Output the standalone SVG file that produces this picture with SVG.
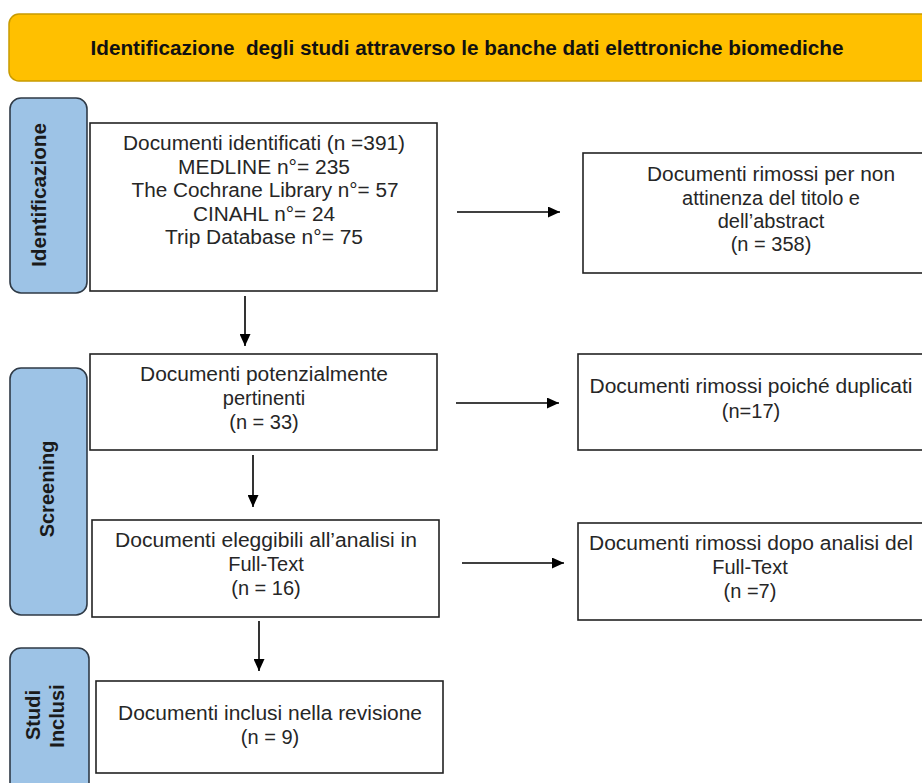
<svg xmlns="http://www.w3.org/2000/svg" width="922" height="783" viewBox="0 0 922 783">
<style>
.box{fill:#fff;stroke:#222;stroke-width:1.6}
.tab{fill:#9DC3E6;stroke:#2F3A46;stroke-width:1.6}
.t{font-family:"Liberation Sans",Arial,sans-serif;font-size:20px;fill:#262626;text-anchor:middle}
.tb{font-family:"Liberation Sans",Arial,sans-serif;font-size:20px;font-weight:bold;fill:#1a1a1a;text-anchor:middle}
.conn{stroke:#000;stroke-width:1.6;fill:none;marker-end:url(#ah)}
</style>
<defs>
<marker id="ah" viewBox="0 0 12 11" refX="12" refY="5.5" markerWidth="12" markerHeight="11" markerUnits="userSpaceOnUse" orient="auto">
<path d="M0,0 L12,5.5 L0,11 z" fill="#000"/>
</marker>
</defs>
<rect width="922" height="783" fill="#fff"/>

<g id="title">
<rect x="9" y="14" width="930" height="67" rx="10" fill="#FFC000" stroke="#C89B00" stroke-width="1.5"/>
<text x="467" y="55" font-family="'Liberation Sans Narrow','Liberation Sans',Arial,sans-serif" font-size="21" font-weight="bold" fill="#111" text-anchor="middle" textLength="753" lengthAdjust="spacingAndGlyphs" xml:space="preserve">Identificazione  degli studi attraverso le banche dati elettroniche biomediche</text>
</g>

<g id="tab-identificazione">
<rect class="tab" x="10" y="98" width="77" height="195" rx="11"/>
<text class="tb" transform="translate(46,195) rotate(-90)" textLength="144" lengthAdjust="spacingAndGlyphs">Identificazione</text>
</g>
<g id="tab-screening">
<rect class="tab" x="10" y="368" width="77" height="247" rx="11"/>
<text class="tb" transform="translate(54,489) rotate(-90)">Screening</text>
</g>
<g id="tab-inclusi">
<rect class="tab" x="10" y="648" width="79" height="150" rx="11"/>
<text class="tb" transform="translate(40,715) rotate(-90)">Studi</text>
<text class="tb" transform="translate(64,716) rotate(-90)">Inclusi</text>
</g>

<g id="box-identificati">
<rect class="box" x="90" y="123" width="347" height="168"/>
<text class="t" x="264" y="150" textLength="282" lengthAdjust="spacingAndGlyphs">Documenti identificati (n =391)</text>
<text class="t" x="264" y="173.5" textLength="172" lengthAdjust="spacingAndGlyphs">MEDLINE n°= 235</text>
<text class="t" x="265" y="197" textLength="267" lengthAdjust="spacingAndGlyphs">The Cochrane Library n°= 57</text>
<text class="t" x="264" y="220.5" textLength="142" lengthAdjust="spacingAndGlyphs">CINAHL n°= 24</text>
<text class="t" x="264" y="244" textLength="198" lengthAdjust="spacingAndGlyphs">Trip Database n°= 75</text>
</g>

<g id="box-rimossi-titolo">
<rect class="box" x="583" y="153" width="340" height="120"/>
<text class="t" x="771" y="181" textLength="248" lengthAdjust="spacingAndGlyphs">Documenti rimossi per non</text>
<text class="t" x="771" y="205">attinenza del titolo e</text>
<text class="t" x="771" y="228">dell’abstract</text>
<text class="t" x="771" y="251">(n = 358)</text>
</g>

<g id="box-pertinenti">
<rect class="box" x="90" y="354" width="347" height="96"/>
<text class="t" x="264" y="381" textLength="248" lengthAdjust="spacingAndGlyphs">Documenti potenzialmente</text>
<text class="t" x="264" y="405">pertinenti</text>
<text class="t" x="264" y="429">(n = 33)</text>
</g>

<g id="box-duplicati">
<rect class="box" x="578" y="354" width="345" height="96"/>
<text class="t" x="751" y="393" textLength="323" lengthAdjust="spacingAndGlyphs">Documenti rimossi poiché duplicati</text>
<text class="t" x="751" y="418">(n=17)</text>
</g>

<g id="box-eleggibili">
<rect class="box" x="92" y="520" width="347" height="97"/>
<text class="t" x="266" y="547" textLength="302" lengthAdjust="spacingAndGlyphs">Documenti eleggibili all’analisi in</text>
<text class="t" x="266" y="571">Full-Text</text>
<text class="t" x="266" y="595">(n = 16)</text>
</g>

<g id="box-fulltext">
<rect class="box" x="578" y="523" width="345" height="97"/>
<text class="t" x="751" y="550" textLength="324" lengthAdjust="spacingAndGlyphs">Documenti rimossi dopo analisi del</text>
<text class="t" x="750" y="574">Full-Text</text>
<text class="t" x="750" y="598">(n =7)</text>
</g>

<g id="box-inclusi">
<rect class="box" x="96" y="681" width="347" height="92"/>
<text class="t" x="270" y="720" textLength="304" lengthAdjust="spacingAndGlyphs">Documenti inclusi nella revisione</text>
<text class="t" x="270" y="744">(n = 9)</text>
</g>

<g id="connectors">
<line class="conn" x1="457" y1="212" x2="560" y2="212"/>
<line class="conn" x1="245" y1="296" x2="245" y2="346"/>
<line class="conn" x1="456" y1="403" x2="559" y2="403"/>
<line class="conn" x1="253" y1="455" x2="253" y2="507"/>
<line class="conn" x1="462" y1="563" x2="564" y2="563"/>
<line class="conn" x1="259" y1="621" x2="259" y2="671"/>
</g>
</svg>
